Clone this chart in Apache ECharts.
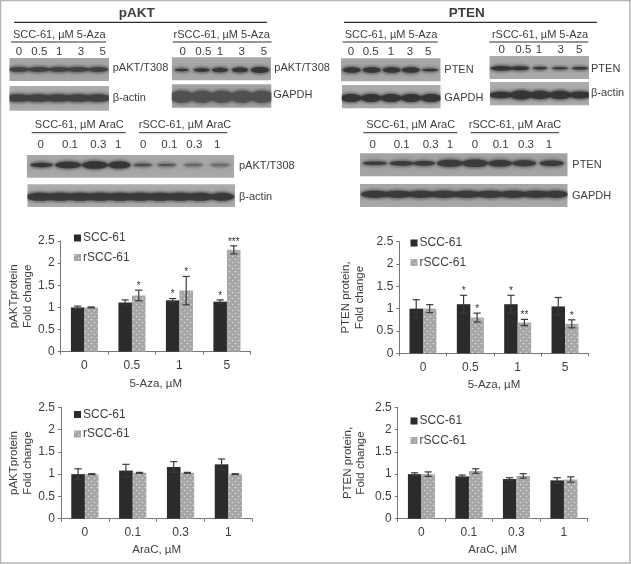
<!DOCTYPE html>
<html><head><meta charset="utf-8">
<style>html,body{margin:0;padding:0;background:#fff}#c{width:631px;height:564px;filter:blur(0.35px)}</style>
<script src="https://cdn.jsdelivr.net/npm/echarts@6/dist/echarts.min.js"></script>
</head><body><div id="c"></div>
<script>
// ---- chart values ----
const azaCategories = ['0','0.5','1','5'];
const araCategories = ['0','0.1','0.3','1'];
const pAktAzaScc  = [1,1.11,1.16,1.13];
const pAktAzaSccErr = [0.03,0.06,0.04,0.04];
const pAktAzaSccSig = ['','','*','*'];
const pAktAzaR    = [1,1.27,1.38,2.3];
const pAktAzaRErr = [0.01,0.12,0.32,0.09];
const pAktAzaRSig = ['','*','*','***'];
const ptenAzaScc  = [1,1.1,1.1,1.05];
const ptenAzaSccErr = [0.2,0.2,0.2,0.2];
const ptenAzaSccSig = ['','*','*',''];
const ptenAzaR    = [1,0.8,0.69,0.66];
const ptenAzaRErr = [0.09,0.1,0.07,0.09];
const ptenAzaRSig = ['','*','**','*'];
const pAktAraScc  = [1,1.08,1.16,1.22];
const pAktAraSccErr = [0.12,0.14,0.12,0.12];
const pAktAraR    = [1,1.03,1.03,1];
const pAktAraRErr = [0.01,0.01,0.01,0.01];
const ptenAraScc  = [1,0.95,0.89,0.86];
const ptenAraSccErr = [0.03,0.03,0.03,0.06];
const ptenAraR    = [1,1.07,0.96,0.88];
const ptenAraRErr = [0.05,0.05,0.05,0.06];
const noSig = ['','','',''];

const FONT = '"Liberation Sans", Arial, sans-serif';
const TXT = '#3d3d3d';

// dotted bar fill
const pat = document.createElement('canvas'); pat.width = 6; pat.height = 6;
const g = pat.getContext('2d');
g.fillStyle = '#a6a6a6'; g.fillRect(0,0,6,6);
g.fillStyle = '#dedede';
[[1.5,1.5],[4.5,4.5]].forEach(p=>{g.beginPath();g.arc(p[0],p[1],0.8,0,7);g.fill();});
const dotted = {image: pat, repeat: 'repeat'};

const panels = [
 {left:60.7,width:190,top:241,height:110.7,cats:azaCategories,x:'5-Aza, µM',y:'pAKTprotein\nFold change',yg:25,xg:26,a:pAktAzaScc,ae:pAktAzaSccErr,as:pAktAzaSccSig,b:pAktAzaR,be:pAktAzaRErr,bs:pAktAzaRSig,lx:74,ly:232},
 {left:399.3,width:189.4,top:241.7,height:111.6,cats:azaCategories,x:'5-Aza, µM',y:'PTEN protein,\nFold change',yg:33,xg:26,a:ptenAzaScc,ae:ptenAzaSccErr,as:ptenAzaSccSig,b:ptenAzaR,be:ptenAzaRErr,bs:ptenAzaRSig,lx:410.5,ly:237},
 {left:61,width:191.3,top:407.3,height:111.4,cats:araCategories,x:'AraC, µM',y:'pAKTprotein\nFold change',yg:23,xg:25,a:pAktAraScc,ae:pAktAraSccErr,as:noSig,b:pAktAraR,be:pAktAraRErr,bs:noSig,lx:74,ly:408.5},
 {left:397.7,width:190,top:407.3,height:111.4,cats:araCategories,x:'AraC, µM',y:'PTEN protein,\nFold change',yg:30,xg:25,a:ptenAraScc,ae:ptenAraSccErr,as:noSig,b:ptenAraR,be:ptenAraRErr,bs:noSig,lx:410.5,ly:415}
];

const BAR = 0.285;
function errSeries(i, vals, errs, sig, side){
  return {type:'custom',xAxisIndex:i,yAxisIndex:i,z:5,silent:true,clip:false,
    encode:{x:0,y:1},
    data:vals.map((v,k)=>[k,v,errs[k]]),
    renderItem:function(params,api){
      const k=api.value(0), v=api.value(1), e=api.value(2);
      const band=api.size([1,0])[0];
      const c=api.coord([k,v]);
      const x=c[0]+side*band*BAR/2;
      const top=api.coord([k,v+e])[1], bot=api.coord([k,v-e])[1];
      const st={stroke:'#3a3a3a',lineWidth:1.2,fill:null};
      const kids=[
        {type:'line',shape:{x1:x,y1:top,x2:x,y2:bot},style:st},
        {type:'line',shape:{x1:x-3.6,y1:top,x2:x+3.6,y2:top},style:st},
        {type:'line',shape:{x1:x-3.6,y1:bot,x2:x+3.6,y2:bot},style:st}
      ];
      if(sig[k]) kids.push({type:'text',style:{text:sig[k],x:x,y:top-4,fill:'#333',font:'10px '+FONT,align:'center',verticalAlign:'middle',textAlign:'center',textVerticalAlign:'middle'}});
      return {type:'group',children:kids};
    }};
}
const axisLine={show:true,lineStyle:{color:'#777',width:1}};
const option={
  animation:false,backgroundColor:'#fff',
  textStyle:{fontFamily:FONT},
  grid:panels.map(p=>({left:p.left,top:p.top,width:p.width,height:p.height,containLabel:false})),
  xAxis:panels.map((p,i)=>({type:'category',gridIndex:i,data:p.cats,name:p.x,nameLocation:'middle',nameGap:p.xg,
    nameTextStyle:{fontSize:11.5,color:TXT,fontFamily:FONT},
    axisLine:axisLine,axisTick:{show:true,length:3,inside:false,lineStyle:{color:'#777'},alignWithLabel:false},
    axisLabel:{fontSize:12,color:TXT,margin:8,fontFamily:FONT},splitLine:{show:false}})),
  yAxis:panels.map((p,i)=>({type:'value',gridIndex:i,min:0,max:2.5,interval:0.5,name:p.y,nameLocation:'middle',nameGap:p.yg,
    nameTextStyle:{fontSize:11.5,color:TXT,lineHeight:13.5,fontFamily:FONT},
    axisLine:axisLine,axisTick:{show:true,length:3,lineStyle:{color:'#777'}},
    axisLabel:{fontSize:12,color:TXT,margin:6,fontFamily:FONT},splitLine:{show:false}})),
  legend:panels.map(p=>({left:p.lx,top:p.ly,orient:'vertical',itemWidth:7,itemHeight:7,itemGap:7.5,icon:'rect',
    data:['SCC-61','rSCC-61'],selectedMode:false,padding:0,itemStyle:{borderWidth:0},
    textStyle:{fontSize:12,color:TXT,fontFamily:FONT,padding:[0,0,0,-3]}})),
  series:panels.flatMap((p,i)=>[
    {type:'bar',name:'SCC-61',xAxisIndex:i,yAxisIndex:i,data:p.a,barWidth:(BAR*100)+'%',barGap:0,itemStyle:{color:'#2b2b2b'}},
    {type:'bar',name:'rSCC-61',xAxisIndex:i,yAxisIndex:i,data:p.b,barWidth:(BAR*100)+'%',barGap:0,itemStyle:{color:dotted}},
    errSeries(i,p.a,p.ae,p.as,-1),
    errSeries(i,p.b,p.be,p.bs,1)
  ]),
  graphic:{elements:[]}
};

// ---- western-blot panels (decorative layout) ----
const E=option.graphic.elements;
function T(t,x,y,size,align,bold){E.push({type:'text',silent:true,z:20,style:{text:t,x:x,y:y,fill:TXT,font:(bold?'bold ':'')+size+'px '+FONT,align:align||'center',verticalAlign:'middle',textAlign:align||'center',textVerticalAlign:'middle'}});}
function L(x1,x2,y,w){E.push({type:'line',silent:true,z:20,shape:{x1:x1,y1:y,x2:x2,y2:y},style:{stroke:'#2e2e2e',lineWidth:w||1}});}
function blot(x1,x2,y1,y2,by,lanes,rx,ry,dark,bg){
  E.push({type:'rect',silent:true,z:10,shape:{x:x1,y:y1,width:x2-x1,height:y2-y1},style:{fill:bg||'#a6a6a6'}});
  lanes.forEach((lx,i)=>{
    const t=Array.isArray(ry)?ry[i]:ry, c=Array.isArray(dark)?dark[i]:dark, w=Array.isArray(rx)?rx[i]:rx;
    E.push({type:'ellipse',silent:true,z:11,shape:{cx:lx,cy:by,rx:w+2,ry:t+2.5},style:{fill:'#777',opacity:0.35,shadowBlur:4,shadowColor:'#777'}});
    E.push({type:'ellipse',silent:true,z:12,shape:{cx:lx,cy:by,rx:w,ry:t},style:{fill:c,opacity:0.9,shadowBlur:2.5,shadowColor:c}});
  });
  // white side masks keep the soft bands inside the panel
  E.push({type:'rect',silent:true,z:13,shape:{x:x1-7,y:y1-1,width:7,height:y2-y1+2},style:{fill:'#fff'}});
  E.push({type:'rect',silent:true,z:13,shape:{x:x2,y:y1-1,width:7,height:y2-y1+2},style:{fill:'#fff'}});
}
E.push({type:'rect',silent:true,z:30,shape:{x:0.5,y:0.5,width:629.5,height:562.5},style:{fill:null,stroke:'#b5b5b5',lineWidth:1.5}});
T('pAKT',136.7,13,13.5,'center',true); L(14,267,22.3,1.2);
T('PTEN',466.7,13,13.5,'center',true); L(344,597,22.3,1.2);

[['SCC-61, µM 5-Aza',59.3,35,11,106,42],['rSCC-61, µM 5-Aza',221.7,35,172.7,271.7,42],
 ['SCC-61, µM AraC',79.3,125.3,31.7,125.7,132.7],['rSCC-61, µM AraC',185,125.3,139,227.3,132.7],
 ['SCC-61, µM 5-Aza',391,35,342.7,437.7,42],['rSCC-61, µM 5-Aza',540,35,489.3,588.3,42],
 ['SCC-61, µM AraC',410.7,125.3,363.3,457.3,132.7],['rSCC-61, µM AraC',515,125.3,470.7,559,132.7]
].forEach(h=>{T(h[0],h[1],h[2],11);L(h[3],h[4],h[5],1);});

const lanes5=['0','0.5','1','3','5'], lanes8=['0','0.1','0.3','1','0','0.1','0.3','1'];
[19,39.3,59.3,81,102.7].forEach((x,i)=>T(lanes5[i],x,51.7,11.5));
[182.7,203.3,220,241.7,264].forEach((x,i)=>T(lanes5[i],x,51.7,11.5));
[351,370.7,391,410,428.3].forEach((x,i)=>T(lanes5[i],x,51.7,11.5));
[501.7,523.3,539,560.7,579.3].forEach((x,i)=>T(lanes5[i],x,50,11.5));
[40.7,70,98.3,118.3,143.3,169.3,194.3,217.3].forEach((x,i)=>T(lanes8[i],x,145,11.5));
[372.7,401.7,430.7,450,475,500.7,526,549].forEach((x,i)=>T(lanes8[i],x,145,11.5));

const D='#343434';
blot(9.3,109,58,81,69.5,[19,39,59,78,98],[10,11,10,11,10],2.4,'#404040');
blot(9.3,109,86,110.7,98,[18,38,58,78,98],[13,13,13,13,13],3.8,'#404040','#acacac');
blot(171.7,271,57.3,80.3,70,[181.7,201.7,220,240,260],[7,8,8,8,9],[1.2,1.8,2.2,2.4,3],D,'#a8a8a8');
blot(171.7,271.5,84.3,107.7,96.7,[182,202,222,242,262],[12,12,12,12,12],6,'#505050','#a4a4a4');
blot(26.7,234.3,155,177.7,165,[41.7,68.3,95,119.3,142.7,166.7,193.3,220],[11,13,13,11,9,9,9,9],[2.2,3.2,3.8,3.6,1.2,1,0.8,0.8],[D,D,D,D,'#4a4a4a','#505050','#5a5a5a','#606060'],'#a8a8a8');
blot(27.3,235,184.3,207,196.7,[40,60,80,100,120,140,160,180,200,222],[14,14,14,14,14,14,14,14,14,12],4,'#383838','#acacac');
blot(341,440.7,58.3,81.3,70,[351.7,371.7,391.7,410.7,430],[9,9,9,9,8],[2.8,2.8,2.8,2.8,1.3],D,'#a8a8a8');
blot(341.7,440.7,85,108.3,98,[351,371,391,411,431],[10.5,10.5,10.5,10.5,10.5],4,D,'#acacac');
blot(489.3,589,56,79,68.3,[501.7,520,540,560,580],[11,9,7,8,8],[2.4,2,1.2,1.1,1.3],D,'#aaaaaa');
blot(490,589,82,105.3,95,[501,521,540,560,580],[12,11,11,11,11],[3.2,4.6,4.2,4.2,3.6],D,'#acacac');
blot(360,567.7,153.3,176.3,163.3,[375,401.7,424,450,475,500,524,551.7],[12,12,11,13,13,12,12,12],[1.8,2.4,2.4,3.6,3.8,3.4,3,2.8],'#3a3a3a','#a4a4a4');
blot(360,567.7,184,207,194.3,[375,398,421,444,467,490,513,536,556],[14,14,14,14,14,14,14,14,12],3.6,'#383838','#a8a8a8');

[['pAKT/T308',112.7,68.3],['β-actin',112.7,98],['pAKT/T308',274.3,68.3],['GAPDH',273.3,95.3],['pAKT/T308',239,166],['β-actin',239,197],
 ['PTEN',444.3,70],['GAPDH',444.3,98],['PTEN',591,69],['β-actin',591,93],['PTEN',572.3,165],['GAPDH',572,196]
].forEach(l=>T(l[0],l[1],l[2],11,'left'));

echarts.init(document.getElementById('c'),null,{renderer:'canvas'}).setOption(option);
</script></body></html>
